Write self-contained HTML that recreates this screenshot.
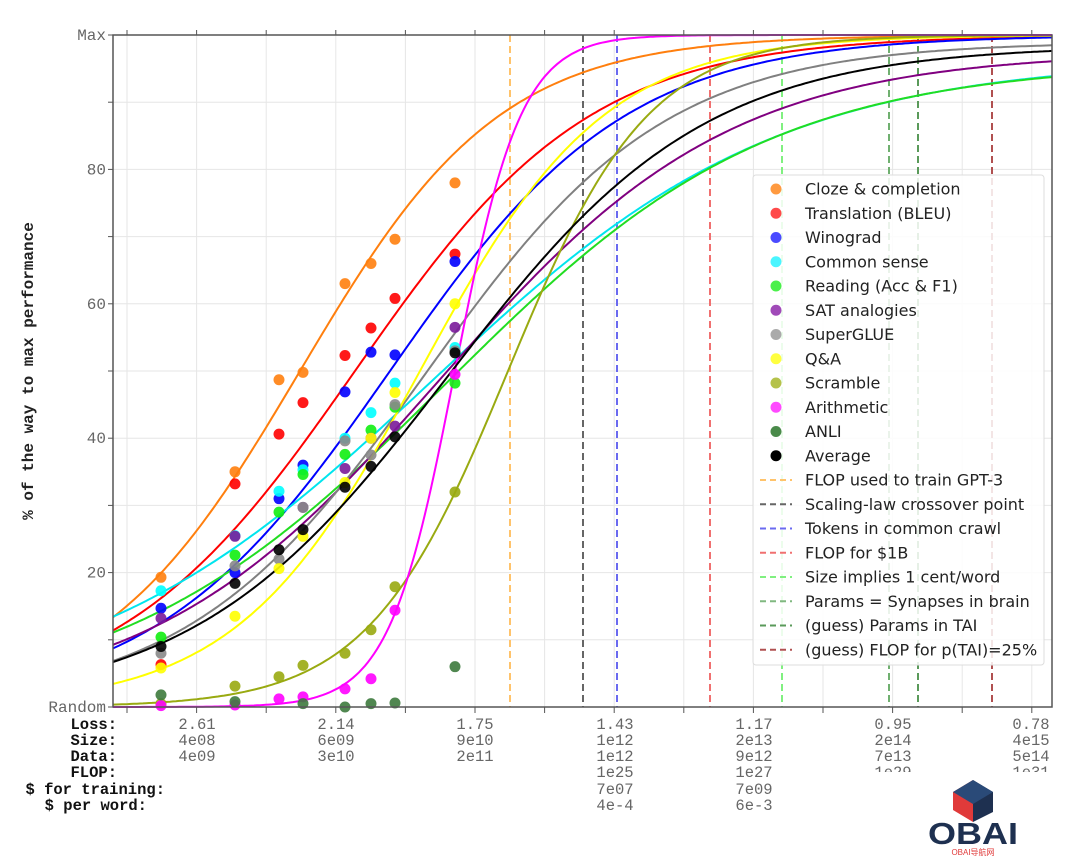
<!DOCTYPE html>
<html><head><meta charset="utf-8">
<style>
html,body{margin:0;padding:0;background:#fff;}
svg{display:block;}
.m{font-family:"Liberation Mono","DejaVu Sans Mono",monospace;font-size:15.5px;}
.s{font-family:"DejaVu Sans","Liberation Sans",sans-serif;font-size:16px;fill:#222;}
</style></head>
<body>
<svg id="c" width="1080" height="863" xmlns="http://www.w3.org/2000/svg"></svg>
<script>
const S=document.getElementById('c');let h='';
const X0=113,X1=1052,Y0=707,Y1=35;
const Y=v=>Y0-(v/100)*(Y0-Y1);
for(let i=0;i<14;i++){const x=127+i*69.6;if(x<X1)h+=`<line x1="${x}" y1="${Y1}" x2="${x}" y2="${Y0}" stroke="#e6e6e6" stroke-width="1"/>`;}
for(let v=10;v<100;v+=10)h+=`<line x1="${X0}" y1="${Y(v)}" x2="${X1}" y2="${Y(v)}" stroke="#e6e6e6" stroke-width="1"/>`;
const vl=[[510,'#ffc36b'],[583,'#666'],[617,'#6a6af0'],[710,'#f07070'],[782,'#80f080'],[889,'#70b070'],[918,'#5a9a5a'],[992,'#b05050']];
vl.forEach(([x,c])=>h+=`<line x1="${x}" y1="${Y1}" x2="${x}" y2="${Y0}" stroke="${c}" stroke-width="2" stroke-dasharray="7,4"/>`);
const cur=[['#ff7f0e',300,100],['#ff0000',355,118],['#0000ff',390,118],['#00e5ee',430,174,0.965],['#22dd22',445,163,0.96],['#800080',440,145,0.975],['#808080',425,120,0.99],['#ffff00',420,92],['#99aa11',508,70],['#ff00ff',455,33],['#000',448,128,0.985]];
cur.forEach(([c,m,s,k])=>{k=k||1;let d='';for(let x=X0;x<=X1;x+=3){const v=100*k/(1+Math.exp(-(x-m)/s));d+=(d?'L':'M')+x+' '+Y(v).toFixed(1);}
h+=`<path d="${d}" fill="none" stroke="${c}" stroke-width="2"/>`;});
const xs=[161,235,279,303,345,371,395,455];
const P=[['#ff7f0e',[19.3,35,48.7,49.8,63,66,69.6,78]],['#f00',[6.3,33.2,40.6,45.3,52.3,56.4,60.8,67.4]],['#00f',[14.7,20,31,36,46.9,52.8,52.4,66.3]],['#0ff',[17.3,25.5,32.1,35.3,40,43.8,48.2,53.5]],['#1e1',[10.4,22.6,29,34.6,37.6,41.2,44.6,48.2]],['#7a1a9a',[13.2,25.4,null,29.7,35.5,40,41.8,56.5]],['#888',[8,21,22,29.7,39.6,37.5,45,53]],['#ff0',[5.8,13.5,20.6,25.4,33.4,40,46.8,60]],['#99aa11',[0.5,3.1,4.5,6.2,8,11.5,17.9,32]],['#f0f',[0.2,0.3,1.2,1.5,2.7,4.2,14.4,49.5]],['#3d7a3d',[1.8,0.8,null,0.5,0,0.5,0.6,6]],['#000',[9,18.4,23.4,26.4,32.7,35.8,40.2,52.7]]];
P.forEach(([c,a])=>a.forEach((v,i)=>{if(v!==null)h+=`<circle cx="${xs[i]}" cy="${Y(v)}" r="5.5" fill="${c}" opacity="0.9"/>`;}));
h+=`<rect x="${X0}" y="${Y1}" width="${X1-X0}" height="${Y0-Y1}" fill="none" stroke="#555" stroke-width="1.5"/>`;
for(let v=0;v<=100;v+=10)h+=`<line x1="${X0-5}" y1="${Y(v)}" x2="${X0}" y2="${Y(v)}" stroke="#555"/>`;
for(let i=0;i<14;i++){const x=127+i*69.6;if(x<X1){h+=`<line x1="${x}" y1="${Y0}" x2="${x}" y2="${Y0+6}" stroke="#555"/><line x1="${x}" y1="${Y1}" x2="${x}" y2="${Y1-5}" stroke="#555"/>`;}}
[['Max',100],['80',80],['60',60],['40',40],['20',20],['Random',0]].forEach(([t,v])=>h+=`<text class="m" style="font-size:16px" x="106" y="${Y(v)+5}" text-anchor="end" fill="#666">${t}</text>`);
h+=`<text class="m" style="font-size:16px" transform="translate(33,371) rotate(-90)" text-anchor="middle" font-weight="bold" fill="#222">% of the way to max performance</text>`;
const ry=[729,745,761,777,794,810];
[['Loss:',117],['Size:',117],['Data:',117],['FLOP:',117],['$ for training:',165],['$ per word:',147]].forEach(([t,x],i)=>h+=`<text class="m" x="${x}" y="${ry[i]}" text-anchor="end" font-weight="bold" fill="#111">${t}</text>`);
const cols=[[197,['2.61','4e08','4e09']],[336,['2.14','6e09','3e10']],[475,['1.75','9e10','2e11']],[615,['1.43','1e12','1e12','1e25','7e07','4e-4']],[754,['1.17','2e13','9e12','1e27','7e09','6e-3']],[893,['0.95','2e14','7e13','1e29']],[1031,['0.78','4e15','5e14','1e31']]];
cols.forEach(([x,a])=>a.forEach((t,i)=>h+=`<text class="m" x="${x}" y="${ry[i]}" text-anchor="middle" fill="#666">${t}</text>`));
h+=`<rect x="860" y="772" width="200" height="20" fill="#fff"/>`;
h+=`<rect x="753" y="175" width="291" height="490" rx="3" fill="#fff" fill-opacity="0.85" stroke="#ddd"/>`;
const L=[['Cloze & completion','#ff9a40'],['Translation (BLEU)','#ff4a4a'],['Winograd','#4a4aff'],['Common sense','#4af5ff'],['Reading (Acc & F1)','#4af04a'],['SAT analogies','#a04ab8'],['SuperGLUE','#aaa'],['Q&A','#ffff40'],['Scramble','#b5c24a'],['Arithmetic','#ff4aff'],['ANLI','#4a8a4a'],['Average','#000']];
L.forEach(([t,c],i)=>{const y=189+i*24.25;h+=`<circle cx="776" cy="${y}" r="5.5" fill="${c}"/><text class="s" x="805" y="${y+5.5}">${t.replace('&','&amp;')}</text>`;});
const L2=[['FLOP used to train GPT-3','#ffc36b'],['Scaling-law crossover point','#666'],['Tokens in common crawl','#6a6af0'],['FLOP for $1B','#f07070'],['Size implies 1 cent/word','#80f080'],['Params = Synapses in brain','#80b880'],['(guess) Params in TAI','#5a9a5a'],['(guess) FLOP for p(TAI)=25%','#b05050']];
L2.forEach(([t,c],i)=>{const y=189+(12+i)*24.25;h+=`<line x1="760" y1="${y}" x2="792" y2="${y}" stroke="${c}" stroke-width="2" stroke-dasharray="6,4"/><text class="s" x="805" y="${y+5.5}">${t}</text>`;});
h+=`<polygon points="973,780 993,792 993,812 973,822" fill="#1e3050"/><polygon points="953,792 973,780 973,822 953,810" fill="#e03a3a"/><polygon points="953,792 973,780 993,792 973,804" fill="#2a4a78"/>`;
h+=`<text x="973" y="844" text-anchor="middle" font-family="Liberation Sans,sans-serif" font-weight="bold" font-size="31" textLength="90" lengthAdjust="spacingAndGlyphs" fill="#1e3050">OBAI</text>`;
h+=`<text x="973" y="855" text-anchor="middle" font-family="Liberation Sans,'Noto Sans CJK SC',sans-serif" font-size="8" fill="#e03a3a">OBAI导航网</text>`;
S.innerHTML=h;
</script>
</body></html>
